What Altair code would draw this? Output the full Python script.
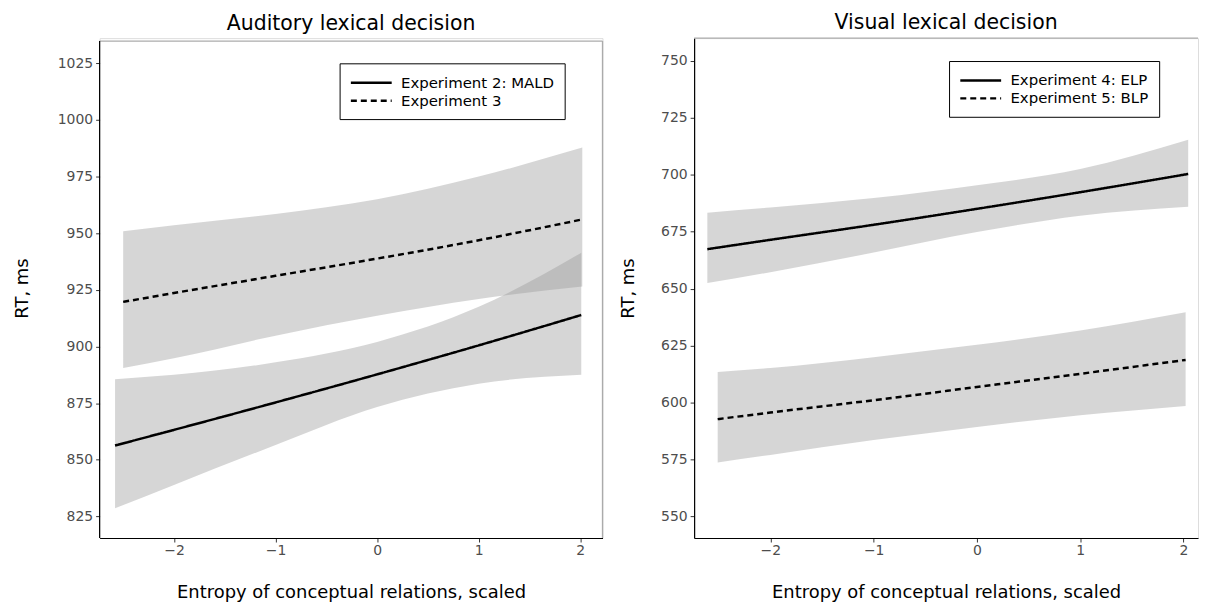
import altair as alt
import pandas as pd

FONT = "DejaVu Sans"

# ---------------- data ----------------
# Left panel: Auditory lexical decision
aud_series = ["Experiment 2: MALD", "Experiment 3"]
mald_x = [-2.58, -2.0, -1.0, 0.0, 1.0, 2.01]
mald_fit = [856.3, 863.2, 875.3, 887.7, 900.5, 913.9]
mald_lo = [828.6, 838.9, 856.5, 873.3, 883.6, 887.5]
mald_hi = [885.6, 887.5, 893.0, 902.0, 917.5, 941.4]
exp3_x = [-2.50, -2.0, -1.0, 0.0, 1.0, 2.02]
exp3_fit = [919.7, 923.6, 931.2, 938.8, 946.9, 956.1]
exp3_lo = [890.5, 894.8, 904.8, 913.6, 921.0, 926.5]
exp3_hi = [950.9, 953.5, 958.5, 965.0, 975.0, 987.8]

# Right panel: Visual lexical decision
vis_series = ["Experiment 4: ELP", "Experiment 5: BLP"]
elp_x = [-2.61, -2.0, -1.0, 0.0, 1.0, 2.045]
elp_fit = [667.3, 671.4, 678.0, 685.0, 692.3, 700.3]
elp_lo = [652.4, 657.2, 665.8, 674.8, 682.0, 685.9]
elp_hi = [683.3, 685.6, 689.7, 695.3, 702.5, 715.3]
blp_x = [-2.51, -2.0, -1.0, 0.0, 1.0, 2.02]
blp_fit = [592.7, 595.6, 601.0, 606.8, 612.6, 618.7]
blp_lo = [573.7, 577.0, 583.5, 589.3, 594.4, 598.5]
blp_hi = [613.4, 615.1, 619.9, 625.3, 631.6, 639.6]

x_ticks = [-2, -1, 0, 1, 2]
aud_ticks = [825, 850, 875, 900, 925, 950, 975, 1000, 1025]
vis_ticks = [550, 575, 600, 625, 650, 675, 700, 725, 750]


def frame(name, xs, fit, lo, hi):
    return pd.DataFrame({"series": name, "x": xs, "fit": fit, "lo": lo, "hi": hi})


aud_df = pd.concat([frame(aud_series[0], mald_x, mald_fit, mald_lo, mald_hi),
                    frame(aud_series[1], exp3_x, exp3_fit, exp3_lo, exp3_hi)])
vis_df = pd.concat([frame(vis_series[0], elp_x, elp_fit, elp_lo, elp_hi),
                    frame(vis_series[1], blp_x, blp_fit, blp_lo, blp_hi)])

H = 502
BORDER = "#ababab"
one = pd.DataFrame({"k": [0]})


def panel(df, series, title, width, xdom, ydom, yticks, ytitle_x, legx, legy,
          top_offset):
    xs = alt.Scale(domain=xdom, nice=False, zero=False)
    ys = alt.Scale(domain=ydom, nice=False, zero=False)
    xaxis = alt.Axis(values=x_ticks, format="d",
                     title="Entropy of conceptual relations, scaled",
                     titleY=60, titleBaseline="alphabetic", titleFontSize=18,
                     titleFont=FONT, titleFontWeight="normal", titleColor="black",
                     grid=False, tickSize=4, labelPadding=2, domainColor="black",
                     domainWidth=1.2, tickColor="#333333", labelColor="#4d4d4d",
                     labelFontSize=14, labelFont=FONT)
    yaxis = alt.Axis(values=yticks, format="d", title="RT, ms", titleX=ytitle_x,
                     titleY=H / 2, titleAngle=270, titleBaseline="middle",
                     titleAlign="center", titleFontSize=18, titleFont=FONT,
                     titleFontWeight="normal", titleColor="black", grid=False,
                     tickSize=4, labelPadding=3, domain=(top_offset == 0),
                     domainColor="black", domainWidth=1.2, tickColor="#333333",
                     labelColor="#4d4d4d", labelFontSize=14, labelFont=FONT)
    base = alt.Chart(df)
    band = base.mark_area(color="#999999", opacity=0.4, interpolate="monotone").encode(
        x=alt.X("x:Q", scale=xs, axis=xaxis),
        y=alt.Y("lo:Q", scale=ys, axis=yaxis, stack=None),
        y2="hi:Q",
        detail="series:N",
    )
    line = base.mark_line(color="black", strokeWidth=2.5, interpolate="monotone").encode(
        x=alt.X("x:Q", scale=xs),
        y=alt.Y("fit:Q", scale=ys),
        strokeDash=alt.StrokeDash(
            "series:N",
            scale=alt.Scale(domain=series, range=[[1, 0], [6, 4]]),
            sort=series,
            legend=alt.Legend(title=None, orient="none", legendX=legx, legendY=legy,
                              direction="vertical", symbolType="M-1,0H4",
                              symbolSize=269, symbolStrokeWidth=2.5,
                              symbolStrokeColor="black", symbolFillColor="transparent",
                              labelFont=FONT, labelFontSize=15, labelColor="black",
                              labelOffset=32.6, padding=10, strokeColor="black",
                              fillColor="white", rowPadding=-1, labelLimit=400),
        ),
    )
    top = alt.Chart(one).mark_rule(color=BORDER, strokeWidth=1.3).encode(
        x=alt.value(0), x2=alt.value(width), y=alt.value(top_offset))
    layers = [band, line, top]
    if top_offset:
        right = alt.Chart(one).mark_rule(color=BORDER, strokeWidth=1.3).encode(
            x=alt.value(width), y=alt.value(top_offset), y2=alt.value(H))
        ydom_line = alt.Chart(one).mark_rule(color="black", strokeWidth=1.2).encode(
            x=alt.value(0), y=alt.value(top_offset), y2=alt.value(H))
        layers += [right, ydom_line]
    return alt.layer(*layers).properties(
        width=width, height=H,
        title=alt.TitleParams(title, fontSize=20.5, font=FONT, fontWeight="normal",
                              color="black", anchor="middle", offset=4),
    )


left = panel(aud_df, aud_series, "Auditory lexical decision", 505,
             [-2.732, 2.219], [815.46, 1036.12], aud_ticks, -77.5, 241, 25.3, 3)
right = panel(vis_df, vis_series, "Visual lexical decision", 506,
              [-2.738, 2.140], [540.52, 759.92], vis_ticks, -66.2, 256, 23, 0)

chart = alt.hconcat(left, right, spacing=14).resolve_scale(
    x="independent", y="independent", strokeDash="independent"
).resolve_legend(strokeDash="independent").properties(
    padding={"left": 5, "top": 3, "right": 0, "bottom": 0}
).configure_view(stroke=None).configure(background="white")

chart.save("out.html", embed_options={"renderer": "svg", "actions": False})
